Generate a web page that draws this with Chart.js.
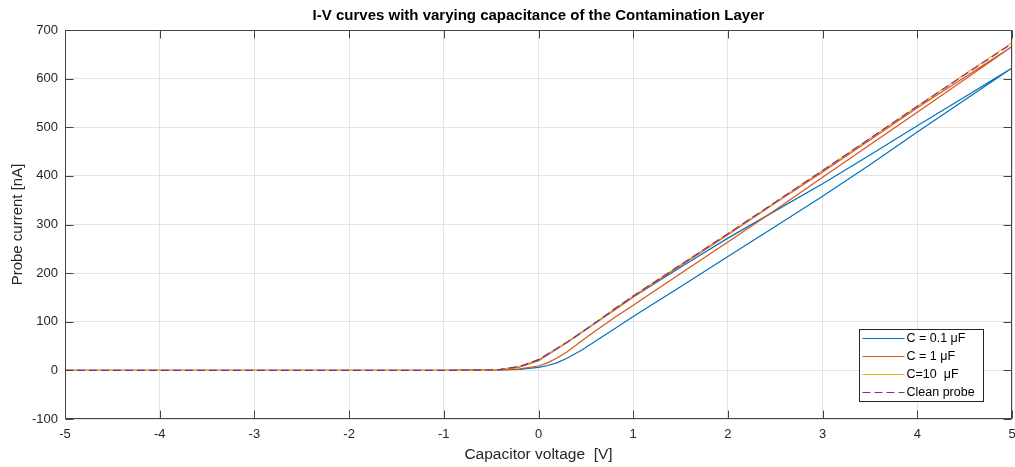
<!DOCTYPE html>
<html>
<head>
<meta charset="utf-8">
<script src="https://cdn.jsdelivr.net/npm/chart.js@4.4.1/dist/chart.umd.min.js"></script>
<style>
html, body { margin: 0; padding: 0; background: #fff; }
</style>
</head>
<body>
<canvas id="iv" width="1015" height="467"></canvas>
<script>
// sweep voltages [V]: up from -5 to 5, then back down
const sweepUp = [-5, -4, -3, -2, -1, -0.6, -0.4, -0.2, 0, 0.1, 0.2, 0.3, 0.45, 0.6, 0.8, 1, 1.5, 2, 2.5, 3, 3.5, 4, 4.5, 5];
const sweepDown = [5, 4.5, 4, 3.5, 3, 2.5, 2, 1.5, 1, 0.6, 0.3, 0, -0.2, -0.4, -1, -5];

// probe current [nA]
const c01Up = [0, 0, 0, 0, 0, 0.3, 0.8, 2, 6, 10, 16, 25, 41, 60, 85, 111, 172, 234, 296, 358, 423, 490, 556, 622];
const c01Down = [622, 562, 503, 443, 384, 328, 272, 212, 151, 98, 58, 20, 7, 2, 0, 0];
const c1Up = [0, 0, 0, 0, 0, 0.4, 1.2, 3, 9, 16, 26, 38, 60, 81, 108, 134, 199, 264, 330, 397, 464, 531, 598, 666];
const c1Down = [666, 603, 540, 474, 408, 344, 279, 215, 151, 97, 57, 21, 7, 2, 0, 0];
const c10Up = [0, 0, 0, 0, 0, 0.5, 2, 8, 22, 34, 46, 58, 77, 98, 126, 153, 217, 281, 346, 411, 477, 543, 609, 674];
const cleanUp = [0, 0, 0, 0, 0, 0.5, 2, 8, 22, 34, 46, 58, 77, 98, 126, 153, 217, 281, 346, 411, 477, 543, 608, 672];

const seriesLabels = ['C = 0.1 \u03bcF', 'C = 1 \u03bcF', 'C=10  \u03bcF', 'Clean probe'];
const xTicks = [-5, 5, 1];
const yTicks = [-100, 700, 100];

const FONT = '"Liberation Sans", Arial, Helvetica, sans-serif';
const AXIS_COLOR = '#262626';
const TICK_LEN = 8;

function pts(xs, ys) {
    return xs.map((x, i) => ({ x: x, y: ys[i] }));
}

// MATLAB-like box with inward ticks on all four sides
const axesBox = {
    id: 'axesBox',
    afterDatasetsDraw(chart) {
        const { ctx, chartArea: a, scales } = chart;
        const l = Math.round(a.left) + 0.5, r = Math.round(a.right) - 0.5;
        const t = Math.round(a.top) + 0.5, b = Math.round(a.bottom) - 0.5;
        ctx.save();
        ctx.strokeStyle = '#444';
        ctx.lineWidth = 1;
        ctx.strokeRect(l, t, r - l, b - t);
        ctx.beginPath();
        scales.x.ticks.forEach((tk) => {
            const px = Math.round(scales.x.getPixelForValue(tk.value)) + 0.5;
            ctx.moveTo(px, b); ctx.lineTo(px, b - TICK_LEN);
            ctx.moveTo(px, t); ctx.lineTo(px, t + TICK_LEN);
        });
        scales.y.ticks.forEach((tk) => {
            const py = Math.round(scales.y.getPixelForValue(tk.value)) + 0.5;
            ctx.moveTo(l, py); ctx.lineTo(l + TICK_LEN, py);
            ctx.moveTo(r, py); ctx.lineTo(r - TICK_LEN, py);
        });
        ctx.stroke();
        ctx.restore();
    }
};

// legend box inside the lower right of the axes
const boxLegend = {
    id: 'boxLegend',
    afterDraw(chart) {
        const { ctx, chartArea: a } = chart;
        const w = 124, h = 72;
        const x = Math.round(a.right - 29 - w) + 0.5;
        const y = Math.round(a.bottom - 18 - h) + 0.5;
        ctx.save();
        ctx.fillStyle = '#fff';
        ctx.fillRect(x, y, w, h);
        ctx.strokeStyle = AXIS_COLOR;
        ctx.lineWidth = 1;
        ctx.strokeRect(x, y, w, h);
        ctx.font = '12.5px ' + FONT;
        ctx.textBaseline = 'middle';
        chart.data.datasets.forEach((ds, i) => {
            const ly = Math.round(y + 8 + i * 18.2) + 0.5;
            ctx.strokeStyle = ds.borderColor;
            ctx.lineWidth = 1.2;
            ctx.setLineDash(ds.borderDash || []);
            ctx.beginPath();
            ctx.moveTo(x + 3, ly);
            ctx.lineTo(x + 45, ly);
            ctx.stroke();
            ctx.setLineDash([]);
            ctx.fillStyle = '#000';
            ctx.fillText(ds.label, x + 47, ly);
        });
        ctx.restore();
    }
};

new Chart(document.getElementById('iv'), {
    type: 'line',
    data: {
        datasets: [
            {
                label: seriesLabels[0],
                data: pts(sweepUp, c01Up).concat(pts(sweepDown, c01Down)),
                borderColor: '#0072BD',
                order: 3
            },
            {
                label: seriesLabels[1],
                data: pts(sweepUp, c1Up).concat(pts(sweepDown, c1Down)),
                borderColor: '#D95319',
                order: 2
            },
            {
                label: seriesLabels[2],
                data: pts(sweepUp, c10Up),
                borderColor: '#EDB120',
                order: 1
            },
            {
                label: seriesLabels[3],
                data: pts(sweepUp, cleanUp),
                borderColor: '#7E2F8E',
                borderDash: [8, 4],
                order: 0
            }
        ]
    },
    plugins: [axesBox, boxLegend],
    options: {
        responsive: false,
        animation: false,
        elements: {
            point: { radius: 0 },
            line: { borderWidth: 1.2, tension: 0, fill: false }
        },
        layout: { padding: { left: 0, right: 3, top: 0, bottom: 0 } },
        plugins: {
            legend: { display: false },
            tooltip: { enabled: false },
            title: {
                display: true,
                fullSize: false,
                text: 'I-V curves with varying capacitance of the Contamination Layer',
                color: '#000',
                font: { family: FONT, size: 15, weight: 'bold' },
                padding: { top: 7, bottom: 5 }
            }
        },
        scales: {
            x: {
                type: 'linear',
                min: xTicks[0],
                max: xTicks[1],
                border: { display: false },
                grid: { color: '#e3e3e3', drawTicks: false },
                ticks: {
                    stepSize: xTicks[2],
                    padding: 8,
                    color: AXIS_COLOR,
                    font: { family: FONT, size: 13 }
                },
                title: {
                    display: true,
                    text: 'Capacitor voltage  [V]',
                    color: AXIS_COLOR,
                    font: { family: FONT, size: 15.5 },
                    padding: { top: 0, bottom: 3 }
                },
                afterFit(scale) {
                    scale.height = 48;
                    scale.paddingLeft = 0;
                    scale.paddingRight = 0;
                }
            },
            y: {
                type: 'linear',
                min: yTicks[0],
                max: yTicks[1],
                border: { display: false },
                grid: { color: '#e3e3e3', drawTicks: false },
                ticks: {
                    stepSize: yTicks[2],
                    padding: 7,
                    color: AXIS_COLOR,
                    font: { family: FONT, size: 13 }
                },
                title: {
                    display: true,
                    text: 'Probe current [nA]',
                    color: AXIS_COLOR,
                    font: { family: FONT, size: 15 },
                    padding: { top: 9, bottom: 0 }
                },
                afterFit(scale) {
                    scale.width = 65;
                    scale.paddingTop = 0;
                    scale.paddingBottom = 0;
                }
            }
        }
    }
});
</script>
</body>
</html>
